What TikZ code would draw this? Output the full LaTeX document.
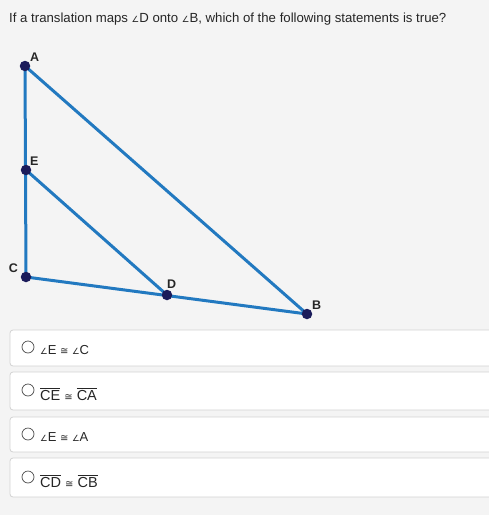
\documentclass[tikz,border=0pt]{standalone}
\usepackage{fontspec}
\setmainfont{Liberation Sans}
\newfontfamily\symfont{DejaVu Sans}
\definecolor{pagegray}{HTML}{F4F4F4}
\definecolor{boxline}{HTML}{D2D2D2}
\definecolor{segblue}{HTML}{2279C0}
\definecolor{dotnavy}{HTML}{1B1B5A}
\newcommand{\ang}{{\symfont\fontsize{8.5}{8.5}\selectfont ∠}}
\newcommand{\congsym}{{\symfont\fontsize{10}{10}\selectfont ≅}}
\newcommand{\seg}[1]{\ensuremath{\overline{\hbox{#1}}}}
\tikzset{
    pt/.style={circle, fill=dotnavy, inner sep=0pt, minimum size=10.5pt},
    lbl/.style={font=\fontsize{12.5}{12.5}\selectfont\bfseries, text=black!85},
    side/.style={segblue, line width=3pt, line cap=round},
    choice/.style={draw=boxline, fill=white, rounded corners=3pt, line width=0.8pt},
    radio/.style={circle, draw=black!70, line width=0.7pt, minimum size=12pt, inner sep=0pt}
}
\begin{document}
\begin{tikzpicture}[x=1pt, y=-1pt]
    \fill 
        [pagegray] (0,0) rectangle (489,515);
    \useasboundingbox 
        (0,0) rectangle (489,515);
    \node 
        (question) [anchor=west, font=\fontsize{13.2}{15}\selectfont, text=black!85, inner sep=0pt] at (9,19)
        {If a translation maps \ang D onto \ang B, which of the following statements is true?};
    % triangle
    \coordinate (A) at (25,66);
    \coordinate (E) at (26,170);
    \coordinate (C) at (26,277);
    \coordinate (D) at (167,295);
    \coordinate (B) at (307,314);
    \draw 
        [side] (A) -- (C) -- (B) -- cycle;
    \draw 
        [side] (E) -- (D);
    \node (dotA) [pt] at (A) {};
    \node (dotE) [pt] at (E) {};
    \node (dotC) [pt] at (C) {};
    \node (dotD) [pt] at (D) {};
    \node (dotB) [pt] at (B) {};
    \node 
        [lbl, anchor=south west, inner sep=0pt] at (30,62) {A};
    \node 
        [lbl, anchor=south west, inner sep=0pt] at (30,166) {E};
    \node 
        [lbl, anchor=south east, inner sep=0pt] at (18,273) {C};
    \node 
        [lbl, anchor=south west, inner sep=0pt] at (167,289) {D};
    \node 
        [lbl, anchor=south west, inner sep=0pt] at (312,310) {B};
    % answer choices
    \draw 
        [choice] (10,330) rectangle (495,366);
    \draw 
        [choice] (10,372) rectangle (495,410);
    \draw 
        [choice] (10,417) rectangle (495,452);
    \draw 
        [choice] (10,458) rectangle (495,497);
    \node (r1) [radio] at (28,347) {};
    \node (r2) [radio] at (28,390) {};
    \node (r3) [radio] at (28,434) {};
    \node (r4) [radio] at (28,477) {};
    \node 
        (c1) [anchor=base west, inner sep=0pt, font=\fontsize{13}{14}\selectfont, text=black!85] at (40,354)
        {\ang E \congsym\ \ang C};
    \node 
        (c2) [anchor=base west, inner sep=0pt, font=\fontsize{14.5}{16}\selectfont, text=black!85] at (40,400)
        {\seg{CE} \congsym\ \seg{CA}};
    \node 
        (c3) [anchor=base west, inner sep=0pt, font=\fontsize{13}{14}\selectfont, text=black!85] at (40,441)
        {\ang E \congsym\ \ang A};
    \node 
        (c4) [anchor=base west, inner sep=0pt, font=\fontsize{14.5}{16}\selectfont, text=black!85] at (40,487)
        {\seg{CD} \congsym\ \seg{CB}};
\end{tikzpicture}
\end{document}
